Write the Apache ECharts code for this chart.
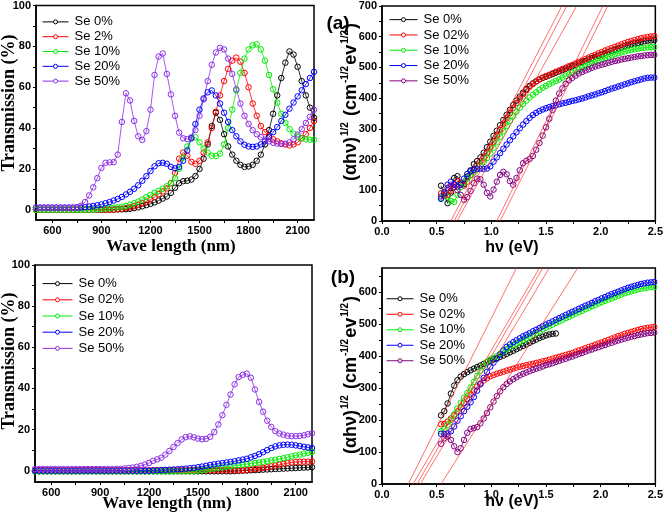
<!DOCTYPE html>
<html><head><meta charset="utf-8">
<script src="https://cdn.jsdelivr.net/npm/echarts@6/dist/echarts.min.js"></script>
<style>html,body{margin:0;padding:0;background:#fff}#c{width:666px;height:517px}</style>
</head><body><div id="c"></div>
<script>
// ---------- DATA ----------
const x1 = [500,525,550,575,600,625,650,675,700,725,750,775,800,825,850,875,900,925,950,975,1000,1025,1050,1075,1100,1125,1150,1175,1200,1225,1250,1275,1300,1325,1350,1375,1400,1425,1450,1475,1500,1525,1550,1575,1600,1625,1650,1675,1700,1725,1750,1775,1800,1825,1850,1875,1900,1925,1950,1975,2000,2025,2050,2075,2100,2125,2150,2175,2200];

// Panel top-left: transmission
const p1Se0 = [0,0,0,0,0,0,0,0,0,0,0,0,0,0,0,0,0,0,0.1,0.1,0.2,0.2,0.3,0.5,0.8,1.2,1.7,2.3,2.9,3.6,4.5,5.5,6.5,8.3,10.8,13,14,14.2,14.8,16.5,20,25,32,41,47.5,44,37,31,27,24,22,21,21.2,22,24,27,32,39,47,56,64.5,72,77.5,76,70,63,56,50,45];
const p1Se2 = [0,0,0,0,0,0,0,0,0,0,0,0,0,0,0,0,0,0,0,0,0.3,0.5,0.8,1.2,1.7,2.4,3.2,4,5,6.3,7.7,9,10.5,13,18,25,28,26.5,23.5,22.5,24,28,33,40,48,56,63,69,73,74.5,72.5,67,60,52,46,41,38,36,34.5,33.5,32.5,32,31.5,32,33,35,37,40,43.5];
const p1Se10 = [0,0,0,0,0,0,0,0,0,0,0,0,0,0,0,0.2,0.4,0.6,0.8,1,1.2,1.5,1.9,2.5,3.2,4,5,6.2,7.3,8.3,9.3,10.3,11.5,13,15.5,20,25.5,31,35,35.5,33,30,28,26.5,26.3,27.5,32,40,49,58.5,67,74,78.5,80.5,81,78.5,73,66,59,52.5,47,42.5,39.5,37.3,35.8,35,34.5,34.3,34.3];
const p1Se20 = [1.1,1.1,1.1,1.1,1.1,1.1,1.1,1.1,1.1,1.1,1.1,1.1,1.3,1.6,1.9,2.2,2.6,3.2,3.8,4.5,5.3,6.3,7.5,8.8,10.3,12,14.2,16.5,19,21.3,22.8,23,22.5,21,20.3,21,24,29,35,42,49,54.5,57.5,58.4,56,52,47.5,43,39,36,33.5,31.8,31,30.8,31,32,33.5,35.5,38,40.5,43.5,46.5,49.5,52.5,55.5,58.5,61.5,64.5,67.5];
const p1Se50 = [1,1,1,1,1,1,1,1,1,1,1.3,2,3.8,7,11,15.5,20.5,23,23.2,23.3,27,43,57,53.5,43.5,36,34.2,38.5,49,66,75,76.5,66.5,56.5,46,37.8,35,34.6,35.5,39,46,54,63,71,77,79.3,78.5,74,66.5,59,52,46,42,39,37,35.5,34.3,33.5,32.8,32.4,32.2,32.3,33,34.5,36.8,39.5,42.5,45.5,49];

// Panel bottom-left: transmission
const p3Se0 = [-0.3,-0.3,-0.3,-0.3,-0.3,-0.3,-0.3,-0.3,-0.3,-0.3,-0.3,-0.3,-0.3,-0.3,-0.3,-0.3,-0.3,-0.3,-0.3,-0.3,-0.3,-0.3,-0.3,-0.3,-0.3,-0.3,-0.3,-0.3,-0.3,-0.3,-0.3,-0.3,-0.3,-0.3,-0.3,-0.3,-0.3,-0.3,-0.3,-0.3,-0.3,-0.3,-0.3,-0.3,-0.3,-0.3,-0.3,-0.3,-0.3,-0.2,-0.1,0,0.1,0.2,0.3,0.4,0.5,0.6,0.7,0.8,0.9,1,1.1,1.2,1.3,1.4,1.5,1.6,1.7];
const p3Se02 = [0.2,0.2,0.2,0.2,0.2,0.2,0.2,0.2,0.2,0.2,0.2,0.2,0.2,0.2,0.2,0.2,0.2,0.2,0.2,0.2,0.2,0.2,0.2,0.2,0.2,0.2,0.2,0.2,0.2,0.2,0.2,0.2,0.2,0.2,0.2,0.2,0.2,0.2,0.2,0.2,0.2,0.2,0.2,0.2,0.2,0.2,0.2,0.2,0.2,0.2,0.2,0.2,0.4,0.6,0.8,1.1,1.4,1.7,2.1,2.5,2.9,3.3,3.7,4,4.2,4.3,4.4,4.4,4.5];
const p3Se10 = [-0.3,-0.3,-0.3,-0.3,-0.3,-0.3,-0.3,-0.3,-0.3,-0.3,-0.3,-0.3,-0.3,-0.3,-0.3,-0.3,-0.3,-0.3,-0.3,-0.3,-0.3,-0.3,-0.3,-0.3,-0.3,-0.3,-0.3,-0.3,-0.3,-0.3,-0.3,-0.3,-0.3,-0.3,-0.3,-0.3,-0.3,-0.3,-0.3,-0.3,0,0.2,0.5,0.8,1.1,1.4,1.7,2,2.2,2.5,2.7,3,3.2,3.5,3.8,4,4.3,4.6,5,5.3,5.7,6.1,6.5,7,7.4,7.8,8.3,8.7,9.1];
const p3Se20 = [0,0,0,0,0,0,0,0,0,0,0,0,0,0,0,0,0,0,0,0,0,0,0,0,0,0,0,0,0,0.1,0.2,0.3,0.4,0.5,0.6,0.7,0.8,1,1.2,1.4,1.7,2,2.4,2.8,3.1,3.4,3.7,4,4.3,4.6,5,5.4,5.8,6.5,7.2,8,9,10,11,11.8,12.3,12.6,12.7,12.6,12.3,12,11.6,11.3,11];
const p3Se50 = [0.8,0.8,0.8,0.8,0.8,0.8,0.8,0.8,0.8,0.8,0.8,0.8,0.8,0.8,0.8,0.8,0.8,0.8,0.8,0.8,0.8,0.9,1.1,1.3,1.5,1.9,2.4,3,3.8,4.8,5.5,6.3,7.8,9.6,11.5,13.4,15.2,16.3,16.7,16.2,15.6,15.3,15.5,16.5,18.8,22.5,27,32,37,42,45.5,46.6,47.2,45.2,39.5,33.5,28.7,24.3,21.3,19.2,18.1,17.5,17,16.8,16.8,16.9,17.2,17.7,18.2];

// Photon energy grid (eV) for the Tauc plots
const x2 = [0.54,0.57,0.60,0.63,0.66,0.69,0.72,0.75,0.78,0.81,0.84,0.87,0.90,0.93,0.96,0.99,1.02,1.05,1.08,1.11,1.14,1.17,1.20,1.23,1.26,1.29,1.32,1.35,1.38,1.41,1.44,1.47,1.50,1.53,1.56,1.59,1.62,1.65,1.68,1.71,1.74,1.77,1.80,1.83,1.86,1.89,1.92,1.95,1.98,2.01,2.04,2.07,2.10,2.13,2.16,2.19,2.22,2.25,2.28,2.31,2.34,2.37,2.40,2.43,2.46,2.49];

// Panel (a)
const p2Se0 = [115,82,58,92,140,146,125,120,145,165,185,195,207,222,240,258,277,294,312,329,346,362,378,392,405,418,430,440,448,455,461,466,470,474,478,483,487,491,496,500,504,509,513,517,521,526,530,534,538,542,546,550,554,558,562,565,569,572,575,578,580,583,585,587,588,589];
const p2Se02 = [90,82,85,98,118,130,122,115,128,150,165,180,195,207,222,240,258,278,297,316,334,351,368,384,399,413,426,437,446,454,461,467,472,476,481,486,490,495,499,504,508,513,518,522,527,532,537,541,546,550,555,559,563,567,571,575,579,583,586,589,592,595,597,599,601,602];
const p2Se10 = [75,95,80,65,62,85,110,125,138,148,158,168,180,192,205,220,238,256,274,292,309,326,341,356,369,381,392,402,411,419,427,434,440,446,451,456,461,467,472,477,483,488,494,499,504,509,514,518,523,527,531,535,539,543,546,549,552,555,557,559,561,563,564,565,566,566];
const p2Se20 = [72,90,118,128,120,112,118,138,153,162,167,170,170,170,171,178,193,207,221,235,249,263,276,289,302,314,325,336,345,352,358,363,367,371,374,377,380,383,385,388,391,393,396,399,402,406,409,412,416,419,423,427,431,434,438,441,445,448,452,455,458,461,464,466,467,467];
const p2Se50 = [80,95,108,113,110,100,85,69,78,98,123,138,136,118,92,80,102,128,150,160,152,130,118,140,165,188,196,202,212,232,254,278,305,333,362,392,415,432,447,458,466,473,480,485,490,494,499,503,506,509,512,515,518,521,523,526,528,530,532,534,536,537,539,540,541,541];
const fitA0 = [0.63,0.66,0.685,1.05,1.08];   // x where fit line meets y=0
const fitA1 = [1.645,1.69,1.78,2.02,2.065];  // x where fit line meets y=700
const fitATop = 700;

// Panel (b)
const p4Se0 = [215,228,252,283,308,325,336,344,350,356,361,366,371,376,381,386,390,394,398,402,407,412,417,422,427,432,437,442,447,452,457,461,465,468,470,471];
const p4Se02 = [187,188,195,205,215,227,240,253,266,280,293,305,315,324,331,337,341,345,348,351,355,358,361,364,367,369,372,374,376,379,381,384,386,389,392,395,398,401,404,407,410,414,418,421,425,429,432,436,440,443,447,451,455,459,463,466,470,473,476,479,482,485,487,489,490,491];
const p4Se10 = [165,172,185,200,218,236,254,270,285,302,320,338,355,370,382,390,395,400,408,415,422,428,434,439,444,450,455,461,467,472,478,484,489,494,499,504,509,514,519,523,528,533,538,542,547,551,556,560,565,569,573,577,581,585,589,593,597,600,603,606,609,611,613,615,616,616];
const p4Se20 = [157,156,158,165,180,198,212,228,242,256,272,292,312,332,351,367,380,392,405,418,429,437,444,450,456,462,467,472,478,483,488,494,499,504,509,514,519,524,529,534,539,543,548,553,558,562,567,572,576,581,585,590,594,598,602,606,610,614,617,620,623,626,628,630,631,632];
const p4Se50 = [126,143,148,138,118,100,112,138,160,172,175,178,190,205,222,240,258,275,290,303,313,321,328,334,340,345,349,353,357,361,364,368,372,375,378,382,385,389,392,396,399,403,407,410,414,418,421,425,428,432,435,439,442,446,449,452,455,458,461,463,466,468,470,472,473,474];
const fitB0 = [0.24,0.285,0.32,0.35,0.54];
const fitB1 = [1.23,1.44,1.47,1.53,1.79];
const fitBTop = 676;

// Names and ticks
const namesTL = ['Se 0%','Se 2%','Se 10%','Se 20%','Se 50%'];
const namesOther = ['Se 0%','Se 02%','Se 10%','Se 20%','Se 50%'];
const nmLabels = [600,900,1200,1500,1800,2100];
const nmTicks = [600,750,900,1050,1200,1350,1500,1650,1800,1950,2100];
const tLabels = [0,20,40,60,80,100];
const tTicks = [0,10,20,30,40,50,60,70,80,90,100];
const evLabels = [0,0.5,1,1.5,2,2.5];
const evTicks = [0,0.25,0.5,0.75,1,1.25,1.5,1.75,2,2.25,2.5];
const aLabels = [0,100,200,300,400,500,600,700];
const aTicks = [0,50,100,150,200,250,300,350,400,450,500,550,600,650,700];
const bLabels = [0,100,200,300,400,500,600];
const bTicks = [0,50,100,150,200,250,300,350,400,450,500,550,600,650];

// ---------- CHART ----------
const SANS = "'Liberation Sans', Arial, sans-serif";
const colL = ['#000000','#ff0000','#00ee00','#0000ff','#8c2ee6'];
const colR = ['#000000','#ff0000','#00ee00','#0000ff','#800080'];

const grids = [
  {left:36, top:5, width:278, height:215},
  {left:382, top:6, width:277, height:215},
  {left:35, top:265, width:277, height:217},
  {left:382, top:268, width:277, height:216}
].map(g => Object.assign(g, {show:true, borderColor:'#000', borderWidth:1.5, backgroundColor:'transparent', containLabel:false}));

const intFmt = v => String(Math.round(v));
const evFmt = v => Number(v).toFixed(1);
function axis(gi, min, max, labels, ticks, fmt) {
  return {type:'value', gridIndex:gi, min:min, max:max,
    axisLine:{show:true, onZero:false, lineStyle:{color:'#000', width:1.5}},
    axisTick:{show:true, length:3, customValues:ticks, lineStyle:{color:'#000', width:1}},
    axisLabel:{show:true, customValues:labels, color:'#000', fontSize:11, fontWeight:'bold', fontFamily:SANS, margin:5, formatter:fmt, showMinLabel:true, showMaxLabel:true},
    splitLine:{show:false}};
}
const xAxes = [
  axis(0, 500, 2200, nmLabels, nmTicks, intFmt),
  axis(1, 0, 2.5, evLabels, evTicks, evFmt),
  axis(2, 500, 2200, nmLabels, nmTicks, intFmt),
  axis(3, 0, 2.5, evLabels, evTicks, evFmt)
];
const yAxes = [
  axis(0, -5, 100, tLabels, tTicks, intFmt),
  axis(1, 0, 700, aLabels, aTicks, intFmt),
  axis(2, -5.5, 100, tLabels, tTicks, intFmt),
  axis(3, 0, 676, bLabels, bTicks, intFmt)
];

function mk(gi, tag, name, color, xs, ys) {
  return {type:'line', name: tag + '|' + name, xAxisIndex:gi, yAxisIndex:gi,
    data: ys.map((v,i) => [xs[i], v]),
    symbol:'circle', symbolSize:5.5, showSymbol:true, showAllSymbol:true,
    itemStyle:{color:'rgba(255,255,255,0)', borderColor:color, borderWidth:1},
    lineStyle:{color:color, width:0.8},
    emphasis:{disabled:true}, silent:true, animation:false, clip:true};
}
function fits(gi, x0, x1, top) {
  return x0.map((a,i) => ({type:'line', xAxisIndex:gi, yAxisIndex:gi,
    data:[[a,0],[x1[i],top]], symbol:'none', silent:true, animation:false,
    lineStyle:{color:'#ff3030', width:0.7}, z:5, clip:true}));
}

const series = [];
const sets = [
  {gi:0, tag:'a', names:namesTL, cols:colL, xs:x1, ys:[p1Se0,p1Se2,p1Se10,p1Se20,p1Se50]},
  {gi:1, tag:'b', names:namesOther, cols:colR, xs:x2, ys:[p2Se0,p2Se02,p2Se10,p2Se20,p2Se50]},
  {gi:2, tag:'c', names:namesOther, cols:colL, xs:x1, ys:[p3Se0,p3Se02,p3Se10,p3Se20,p3Se50]},
  {gi:3, tag:'d', names:namesOther, cols:colR, xs:x2, ys:[p4Se0,p4Se02,p4Se10,p4Se20,p4Se50]}
];
sets.forEach(s => s.ys.forEach((y,k) => series.push(mk(s.gi, s.tag, s.names[k], s.cols[k], s.xs, y))));
series.push(...fits(1, fitA0, fitA1, fitATop));
series.push(...fits(3, fitB0, fitB1, fitBTop));

function legend(s, left, top, w, lh) {
  return {show:true, data: s.names.map(n => s.tag + '|' + n), left:left, top:top, orient:'vertical',
    itemWidth:w, itemHeight:5, itemGap:0, padding:0, selectedMode:false,
    formatter: n => n.split('|')[1],
    itemStyle:{color:'#fff', borderWidth:1}, lineStyle:{width:1},
    textStyle:{fontSize:13, fontFamily:SANS, color:'#000', lineHeight:lh, padding:[0,0,0,1]}};
}
const legends = [
  legend(sets[0], 42, 14.5, 26, 14.8),
  legend(sets[1], 389, 12, 28, 15.3),
  legend(sets[2], 42, 275.5, 30, 16.2),
  legend(sets[3], 386, 291, 27, 15.5)
];

const supRich = {
  n:{fontSize:18, fontWeight:'bold', fontFamily:SANS, fill:'#000', lineHeight:22},
  s:{fontSize:10, fontWeight:'bold', fontFamily:SANS, fill:'#000', lineHeight:22, verticalAlign:'top', padding:[0,1,8,1]}
};
const supText = '{n|(\u03b1h\u03bd)}{s|1/2}{n| (cm}{s|-1/2}{n|ev}{s|1/2}{n|)}';
function txt(x, y, text, font, rot) {
  return {type:'text', x:x, y:y, rotation: rot ? Math.PI/2 : 0, silent:true,
    style:{text:text, font:font, fill:'#000', align:'center', verticalAlign:'middle'}};
}
const graphic = [
  txt(9, 103, 'Transmission (%)', "bold 18px 'Liberation Serif'", true),
  txt(171, 247, 'Wave length (nm)', "bold 17px 'Liberation Serif'", false),
  txt(9, 361, 'Transmission (%)', "bold 18px 'Liberation Serif'", true),
  txt(167, 504, 'Wave length (nm)', "bold 17px 'Liberation Serif'", false),
  txt(512, 248, 'h\u03bd (eV)', "bold 16px 'Liberation Sans'", false),
  txt(512, 502, 'h\u03bd (eV)', "bold 16px 'Liberation Sans'", false),
  txt(338, 24, '(a)', "bold 19px 'Liberation Sans'", false),
  txt(343, 278, '(b)', "bold 19px 'Liberation Sans'", false),
  {type:'text', x:351, y:102, rotation:Math.PI/2, silent:true, style:{text:supText, rich:supRich, align:'center', verticalAlign:'middle'}},
  {type:'text', x:351, y:375, rotation:Math.PI/2, silent:true, style:{text:supText, rich:supRich, align:'center', verticalAlign:'middle'}}
];

const chart = echarts.init(document.getElementById('c'), null, {renderer:'canvas'});
chart.setOption({
  animation:false, backgroundColor:'#fff',
  grid:grids, xAxis:xAxes, yAxis:yAxes, legend:legends, series:series, graphic:graphic
});
</script></body></html>
